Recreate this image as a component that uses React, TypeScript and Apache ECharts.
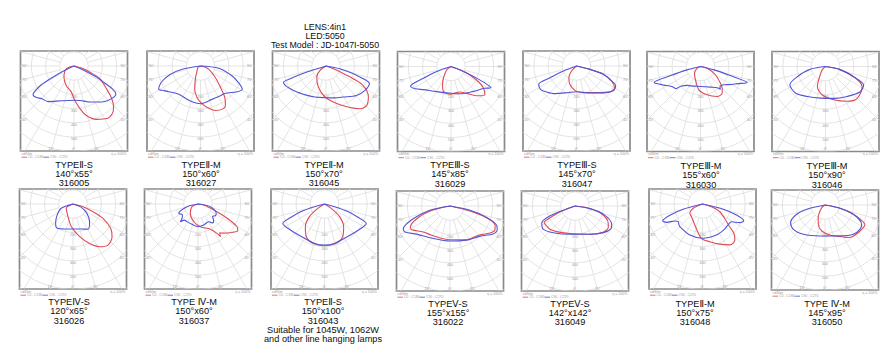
import React, { useEffect, useRef } from "react";
import * as echarts from "echarts";

type Pt = [number, number]; // [angle in degrees from nadir (right = +), relative intensity]

// ---------- grid of the photometric diagrams ----------
const RING_STEP = 14.2; // intensity units between two grid rings
const RING_COUNT = 9;
const RADIAL_ANGLES = Array.from({ length: 24 }, (_, i) => -180 + i * 15);
const RING_VALUE_LABELS = ["200", "300", "400", "500"]; // rings 2..5

// ---------- texts ----------
const HEADER = ["LENS:4in1", "LED:5050", "Test Model : JD-1047I-5050"];
const TYPES_TOP = ["TYPEⅡ-S", "TYPEⅡ-M", "TYPEⅡ-M", "TYPEⅢ-S", "TYPEⅢ-S", "TYPEⅢ-M", "TYPEⅢ-M"];
const BEAMS_TOP = ["140°x55°", "150°x60°", "150°x70°", "145°x85°", "145°x70°", "155°x60°", "150°x90°"];
const CODES_TOP = ["316005", "316027", "316045", "316029", "316047", "316030", "316046"];
const TYPES_BOTTOM = ["TYPEⅣ-S", "TYPE Ⅳ-M", "TYPEⅡ-S", "TYPEⅤ-S", "TYPEⅤ-S", "TYPEⅡ-M", "TYPE Ⅳ-M"];
const BEAMS_BOTTOM = ["120°x65°", "150°x60°", "150°x100°", "155°x155°", "142°x142°", "150°x75°", "145°x95°"];
const CODES_BOTTOM = ["316026", "316037", "316043", "316022", "316049", "316048", "316050"];
const NOTE_LINES = ["Suitable for 1045W, 1062W", "and other line hanging lamps"];
const LEGEND_NAMES = ["C0 - C180", "C90 - C270"];
const UNIT_TEXT = "cd/klm";
const EFF_TEXT = "η = 100%";

// ---------- curves: top row ----------
const T1_RED: Pt[] = [[-80, 0], [-70, 8], [-42, 15], [-22, 21], [-6, 26], [1, 34], [8, 43], [14, 51], [23, 58], [32, 62], [39, 61], [44, 57], [50, 48.5], [55, 39.5], [64, 28.7], [69, 16.8], [75, 8], [82, 0]];
const T1_BLUE: Pt[] = [[-70, 0], [-65, 10], [-62, 25], [-60, 38], [-57, 47], [-55, 50], [-50, 49], [-45, 46], [-36, 44], [-20, 37], [-10, 35], [0, 34.3], [10, 35], [20, 38], [26, 40], [33, 43], [41, 47], [50, 50], [56, 50.5], [59, 45], [61, 35], [64, 24], [67, 10], [70, 0]];
const T2_RED: Pt[] = [[-90, 0], [-60, 3], [-35, 6], [-23, 12.7], [-14, 24], [-6, 32], [2.5, 38], [11, 43], [19, 47], [27, 48.4], [32, 47], [37.5, 40], [43, 29.5], [52, 19], [68, 9], [80, 3], [90, 0]];
const T2_BLUE: Pt[] = [[-88, 0], [-80, 18.6], [-74.5, 31], [-68.5, 41], [-61, 47.8], [-56, 44], [-51, 40.8], [-37.5, 35.7], [-16, 36.4], [0, 37.7], [19, 35.3], [30, 35.5], [42.5, 37], [55, 44.8], [61, 47.8], [66, 42], [72.5, 33.2], [83, 18.4], [88, 0]];
const T3_RED: Pt[] = [[-75, 0], [-54, 7.4], [-40, 14.4], [-20, 22.4], [-2, 31], [16, 39], [30, 48], [38.5, 54.6], [46, 56.6], [54, 52.4], [59, 47.4], [63, 40], [65, 30], [66, 22.7], [68, 14], [70, 7.8], [75, 0]];
const T3_BLUE: Pt[] = [[-76, 0], [-72.5, 20], [-70.5, 38], [-69, 45.6], [-64, 45], [-58, 42.6], [-48, 39], [-39, 36.3], [-20, 33], [0, 31.7], [15, 33], [29, 35.5], [46, 42.4], [58, 46], [68, 46.8], [71, 40], [73, 32], [76, 22], [79, 14], [84, 0]];
const T4_RED: Pt[] = [[-70, 0], [-52, 5.4], [-33, 14], [-25, 20], [-17, 26], [-2, 27.7], [19, 27], [30, 31], [41, 38.7], [50, 44.2], [55, 40.4], [60, 33.5], [66, 20.7], [70, 9.6], [75, 0]];
const T4_BLUE: Pt[] = [[-75, 0], [-71, 15], [-67, 30], [-64, 45], [-58, 42], [-50, 36], [-30, 29], [0, 26.7], [20, 29], [42, 33.5], [57, 40], [62, 45.5], [64, 38], [65.5, 28], [67, 18], [69, 10], [73, 0]];
const T5_RED: Pt[] = [[-75, 0], [-45, 7], [-33, 14], [-20, 19.5], [-4, 24.4], [11, 27], [37, 33.4], [52, 42], [60, 44], [67, 38], [73, 28], [76, 14], [80, 0]];
const T5_BLUE: Pt[] = [[-74, 0], [-69, 14], [-66, 29], [-64, 42], [-58, 43], [-53, 41.6], [-40, 36], [-20, 28.5], [0, 25.7], [26, 30], [45, 38], [56, 44.4], [63, 44], [68, 36], [73, 28], [76, 14], [80, 0]];
const T6_RED: Pt[] = [[-80, 0], [-63, 3.7], [-42, 9], [-21, 14.2], [-4, 23.4], [13, 29], [29, 34.3], [39, 34.4], [45, 30.7], [50, 26], [61, 17], [76, 7], [85, 0]];
const T6_BLUE: Pt[] = [[-80, 0], [-76, 14], [-73, 31], [-71, 49], [-67, 45], [-63, 41], [-55, 35], [-48, 33], [-45, 28], [-35, 23], [-27, 21.7], [0, 20], [26, 23], [38, 27], [41, 30.3], [44, 28], [52, 29.6], [60, 36], [65, 40.6], [71, 49.4], [73, 31], [76, 14], [80, 0]];
const T7_RED: Pt[] = [[-70, 0], [-45, 4.7], [-27, 15], [-22, 21.7], [-7, 28.5], [14, 34.3], [32, 41], [42, 44.8], [53, 44], [61, 41.8], [69, 32], [78, 15], [85, 0]];
const T7_BLUE: Pt[] = [[-85, 0], [-80, 15], [-70, 30], [-63, 40], [-48, 40], [-31, 35], [-9, 32], [15, 33], [36, 37], [54, 43], [64, 42.4], [70, 30], [78, 15], [85, 0]];

// ---------- curves: bottom row ----------
const B1_RED: Pt[] = [[-75, 0], [-57, 8], [-21.5, 13.6], [-4, 22.8], [11.6, 33.4], [23, 43.3], [32, 50.4], [40.5, 54], [50, 51], [57, 45], [64.5, 33], [69, 21.4], [75, 10.4], [82, 0]];
const B1_BLUE: Pt[] = [[-85, 0], [-70, 12.5], [-55, 19.4], [-42, 26], [-33, 29], [-18, 26.3], [0, 25], [18, 26.3], [31, 29.4], [43, 24.3], [56, 16.8], [68, 9], [80, 0]];
const B2_RED: Pt[] = [[-85, 0], [-66, 6.6], [-40, 12], [-14, 18], [6, 22.8], [26, 28], [33, 35], [34.5, 39.6], [37, 36], [40, 38], [48, 43], [56, 48], [60, 45], [64, 32], [69, 17], [80, 6], [88, 0]];
const B2_BLUE: Pt[] = [[-88, 0], [-76, 11.3], [-64, 21.4], [-55, 19], [-48, 21.5], [-45, 25], [-40, 21], [-32, 20.8], [-16.5, 21.2], [0, 22.7], [15, 21.8], [31, 20.7], [38, 24], [43, 22.9], [50, 19], [56, 21], [63, 20.5], [78, 12.6], [88, 0]];
const B3_RED: Pt[] = [[-70, 0], [-57, 8], [-50, 19.7], [-40, 29.8], [-29, 37.5], [-16.6, 41], [0, 41.7], [16.6, 41], [29, 37.5], [40, 29.8], [50, 19.7], [57, 8], [70, 0]];
const B3_BLUE: Pt[] = [[-85, 0], [-75, 10.4], [-72, 24.5], [-68.5, 35.5], [-65, 46], [-56.5, 44], [-35.5, 40], [-14, 40.6], [0, 41], [14, 40.6], [35.5, 40], [56.5, 44], [65, 46], [68.5, 35.5], [72, 24.5], [75, 10.4], [85, 0]];
const B4_RED: Pt[] = [[-85, 0], [-76, 20.6], [-69, 35.6], [-62, 45], [-58, 45], [-46, 37.3], [-32, 34.5], [0, 33.7], [26, 37.6], [44, 40.7], [56, 48.3], [62, 50.9], [67, 49], [72, 38.5], [76, 20.6], [85, 0]];
const B4_BLUE: Pt[] = [[-87, 0], [-78, 20.5], [-71, 39], [-64, 52], [-60, 52], [-50, 43.7], [-32, 37.5], [0, 35], [26, 38], [45, 42.6], [57, 51.4], [63, 53], [67.5, 50.5], [73, 38], [78, 20.5], [87, 0]];
const B5_RED: Pt[] = [[-75, 0], [-68, 18], [-64, 29.8], [-62, 35], [-55, 34.7], [-47, 34.2], [-35.5, 31.5], [-10, 28], [28, 32], [47, 38.4], [57, 39.7], [63, 37.3], [75, 26], [82, 11.8], [88, 0]];
const B5_BLUE: Pt[] = [[-78, 0], [-70, 19.5], [-67.5, 30.6], [-63, 37.3], [-54, 39.3], [-39, 34.4], [-10, 28.7], [28, 32], [47, 39], [57, 42.6], [63.5, 41], [74, 29.5], [80, 15.2], [86, 0]];
const B6_RED: Pt[] = [[-80, 0], [-65, 10.2], [-54, 15.7], [-41, 16.8], [-20, 22.4], [-2, 34.3], [11, 38.4], [23, 43.6], [34, 49.3], [42, 48.4], [47, 43], [50, 35.5], [57, 26.5], [66, 19], [73, 9.4], [82, 0]];
const B6_BLUE: Pt[] = [[-85, 0], [-75, 20], [-71, 34.5], [-67, 43.3], [-63, 40.4], [-58, 32], [-54, 30], [-50, 31], [-45, 32], [-22, 33.5], [0, 34.3], [24, 34], [40, 33.5], [51, 33], [58.6, 34], [63.4, 41.7], [68, 44.5], [72, 35.7], [76, 21.4], [85, 0]];
const B7_RED: Pt[] = [[-75, 0], [-51, 4.3], [-28, 14.4], [-19, 20.4], [-7, 26.2], [9.5, 30.4], [30, 37], [35.5, 40], [42, 42], [53, 43.6], [64, 44.4], [68, 38], [72, 29.8], [78, 15.4], [85, 0]];
const B7_BLUE: Pt[] = [[-85, 0], [-77, 18.8], [-72, 29.8], [-63, 38.6], [-52.5, 40], [-36.5, 36.5], [-9, 31.4], [26, 34.4], [44, 40.7], [55, 42.6], [62, 41.5], [72, 29.8], [78, 15.4], [85, 0]];

const TOP_RED = [T1_RED, T2_RED, T3_RED, T4_RED, T5_RED, T6_RED, T7_RED];
const TOP_BLUE = [T1_BLUE, T2_BLUE, T3_BLUE, T4_BLUE, T5_BLUE, T6_BLUE, T7_BLUE];
const BOTTOM_RED = [B1_RED, B2_RED, B3_RED, B4_RED, B5_RED, B6_RED, B7_RED];
const BOTTOM_BLUE = [B1_BLUE, B2_BLUE, B3_BLUE, B4_BLUE, B5_BLUE, B6_BLUE, B7_BLUE];

// ---------- layout ----------
const BOX_W = 107;
const BOX_H = 100;
const CENTER_DY = 15;
const TOP_BOX_LEFT = [20.5, 147, 272.5, 397.5, 523, 647, 772];
const TOP_BOX_TOP = [51, 51, 51, 51.5, 51, 51.5, 51.5];
const BOTTOM_BOX_LEFT = [19.5, 144.5, 271, 396.5, 521.5, 649, 771.5];
const BOTTOM_BOX_TOP = [189, 189, 189, 191, 191, 189, 190];
const TOP_LABEL_X = [74, 201, 324, 450, 577, 701, 827];
const TOP_LABEL_Y = [164.5, 164.5, 164.5, 165, 165, 166, 166];
const BOTTOM_LABEL_X = [69, 194, 323, 448, 570, 695, 827];
const BOTTOM_LABEL_Y = [302, 302, 302, 303.5, 303.5, 303.5, 303.5];
const LINE_GAP = 9.3;
const HEADER_X = 325;
const HEADER_Y = [27, 36.2, 45.3];

const RED = "#e04a55";
const BLUE = "#5054d6";
const GRID_COLOR = "#d8d8d8";
const BORDER_COLOR = "#8a8a8a";
const TINY_COLOR = "#9a9a9a";
const TEXT_COLOR = "#0d0d0d";
const FONT = "'Liberation Sans', Arial, 'DejaVu Sans', sans-serif";

function textEl(text: string, x: number, y: number, size: number, fill: string, align = "center") {
  return {
    type: "text",
    x,
    y,
    silent: true,
    style: {
      text,
      fill,
      fontSize: size,
      fontFamily: FONT,
      align,
      textAlign: align,
      verticalAlign: "middle",
      textVerticalAlign: "middle",
    },
  };
}

function renderGrid(params: any, api: any) {
  const cs = params.coordSys;
  const c = api.coord([0, 0]);
  const unit = api.size([1, 0])[0];
  const cx = c[0];
  const cy = c[1];
  const left = cs.x;
  const right = cs.x + cs.width;
  const top = cs.y;
  const bottom = cs.y + cs.height;
  const children: any[] = [];
  for (let k = 1; k <= RING_COUNT; k++) {
    children.push({
      type: "circle",
      shape: { cx, cy, r: k * RING_STEP * unit },
      style: { fill: "none", stroke: GRID_COLOR, lineWidth: 0.7 },
    });
  }
  const r0 = RING_STEP * unit;
  const r1 = 220;
  RADIAL_ANGLES.forEach((a) => {
    const rad = (a * Math.PI) / 180;
    const s = Math.sin(rad);
    const co = Math.cos(rad);
    children.push({
      type: "line",
      shape: { x1: cx + r0 * s, y1: cy + r0 * co, x2: cx + r1 * s, y2: cy + r1 * co },
      style: { stroke: GRID_COLOR, lineWidth: 0.7 },
    });
    const label = Math.abs(a) + "°";
    if (Math.abs(s) > 0.01) {
      const half = s > 0 ? right - cx : cx - left;
      const t = half / Math.abs(s);
      const yh = cy + t * co;
      if (yh > top + 3 && yh < bottom - 4) {
        children.push(
          s > 0
            ? textEl(label, right - 1.5, yh, 3.6, TINY_COLOR, "right")
            : textEl(label, left + 1.5, yh, 3.6, TINY_COLOR, "left")
        );
      }
    }
    if (co > 0.01) {
      const t = (bottom - cy) / co;
      const xh = cx + t * s;
      if (xh > left + 5 && xh < right - 5) {
        children.push(textEl(label, xh, bottom - 2.5, 3.6, TINY_COLOR));
      }
    }
  });
  RING_VALUE_LABELS.forEach((v, i) => {
    children.push(textEl(v, cx, cy + (i + 2) * RING_STEP * unit + 2.2, 3.6, TINY_COLOR));
  });
  return { type: "group", children };
}

// ECharts' polar angle axis turns the other way round from our "right = +" convention
const toPolar = (pts: Pt[]) => pts.map(([a, r]) => [r, -a]);

function buildOption() {
  const boxes: { left: number; top: number; red: Pt[]; blue: Pt[] }[] = [];
  for (let i = 0; i < 7; i++) boxes.push({ left: TOP_BOX_LEFT[i], top: TOP_BOX_TOP[i], red: TOP_RED[i], blue: TOP_BLUE[i] });
  for (let i = 0; i < 7; i++) boxes.push({ left: BOTTOM_BOX_LEFT[i], top: BOTTOM_BOX_TOP[i], red: BOTTOM_RED[i], blue: BOTTOM_BLUE[i] });

  const grid: any[] = [];
  const xAxis: any[] = [];
  const yAxis: any[] = [];
  const polar: any[] = [];
  const radiusAxis: any[] = [];
  const angleAxis: any[] = [];
  const series: any[] = [];
  const graphic: any[] = [];

  boxes.forEach((b, i) => {
    grid.push({
      left: b.left,
      top: b.top,
      width: BOX_W,
      height: BOX_H,
      show: true,
      borderColor: BORDER_COLOR,
      borderWidth: 1.7,
      backgroundColor: "#ffffff",
    });
    xAxis.push({ gridIndex: i, type: "value", min: -BOX_W / 2, max: BOX_W / 2, show: false });
    yAxis.push({ gridIndex: i, type: "value", min: -(BOX_H - CENTER_DY), max: CENTER_DY, show: false });
    polar.push({ center: [b.left + BOX_W / 2, b.top + CENTER_DY], radius: 100 });
    radiusAxis.push({
      polarIndex: i,
      type: "value",
      min: 0,
      max: 100,
      show: false,
      axisLine: { show: false },
      splitLine: { show: false },
      axisLabel: { show: false },
      axisTick: { show: false },
    });
    angleAxis.push({
      polarIndex: i,
      type: "value",
      min: -180,
      max: 180,
      startAngle: 90,
      show: false,
      axisLine: { show: false },
      splitLine: { show: false },
      axisLabel: { show: false },
      axisTick: { show: false },
    });
    series.push({
      type: "custom",
      coordinateSystem: "cartesian2d",
      xAxisIndex: i,
      yAxisIndex: i,
      clip: true,
      silent: true,
      z: 1,
      data: [[0, 0]],
      renderItem: renderGrid,
    });
    series.push({
      type: "line",
      name: LEGEND_NAMES[0],
      coordinateSystem: "polar",
      polarIndex: i,
      data: toPolar(b.red),
      symbol: "none",
      smooth: 0.3,
      silent: true,
      z: 3,
      lineStyle: { color: RED, width: 1.1 },
    });
    series.push({
      type: "line",
      name: LEGEND_NAMES[1],
      coordinateSystem: "polar",
      polarIndex: i,
      data: toPolar(b.blue),
      symbol: "none",
      smooth: 0.3,
      silent: true,
      z: 4,
      lineStyle: { color: BLUE, width: 1.1 },
    });

    // little legend under each diagram
    const bt = b.top + BOX_H;
    graphic.push(textEl(UNIT_TEXT, b.left + 1, bt + 2.8, 3.6, TINY_COLOR, "left"));
    graphic.push(textEl(EFF_TEXT, b.left + BOX_W - 1, bt + 2.8, 3.6, TINY_COLOR, "right"));
    graphic.push({ type: "line", silent: true, shape: { x1: b.left + 1, y1: bt + 6.2, x2: b.left + 6.5, y2: bt + 6.2 }, style: { stroke: RED, lineWidth: 0.8 } });
    graphic.push(textEl(LEGEND_NAMES[0], b.left + 7.5, bt + 6.2, 3.4, TINY_COLOR, "left"));
    graphic.push({ type: "line", silent: true, shape: { x1: b.left + 23, y1: bt + 6.2, x2: b.left + 28.5, y2: bt + 6.2 }, style: { stroke: BLUE, lineWidth: 0.8 } });
    graphic.push(textEl(LEGEND_NAMES[1], b.left + 29.5, bt + 6.2, 3.4, TINY_COLOR, "left"));
  });

  HEADER.forEach((t, i) => graphic.push(textEl(t, HEADER_X, HEADER_Y[i], 8.8, TEXT_COLOR)));
  for (let i = 0; i < 7; i++) {
    [TYPES_TOP[i], BEAMS_TOP[i], CODES_TOP[i]].forEach((t, j) =>
      graphic.push(textEl(t, TOP_LABEL_X[i], TOP_LABEL_Y[i] + j * LINE_GAP, 9.2, TEXT_COLOR))
    );
    const lines = [TYPES_BOTTOM[i], BEAMS_BOTTOM[i], CODES_BOTTOM[i]];
    if (i === 2) lines.push(...NOTE_LINES);
    lines.forEach((t, j) =>
      graphic.push(textEl(t, BOTTOM_LABEL_X[i], BOTTOM_LABEL_Y[i] + j * LINE_GAP, 9.2, TEXT_COLOR))
    );
  }

  return {
    animation: false,
    backgroundColor: "#ffffff",
    textStyle: { fontFamily: FONT },
    grid,
    xAxis,
    yAxis,
    polar,
    radiusAxis,
    angleAxis,
    series,
    graphic,
  };
}

export default function App() {
  const ref = useRef<HTMLDivElement>(null);
  useEffect(() => {
    if (!ref.current) return;
    const chart = echarts.init(ref.current, null, { renderer: "svg" });
    chart.setOption(buildOption() as any);
    return () => chart.dispose();
  }, []);
  return (
    <div
      ref={ref}
      style={{ position: "absolute", left: 0, top: 0, width: 894, height: 364, background: "#fff" }}
    />
  );
}
